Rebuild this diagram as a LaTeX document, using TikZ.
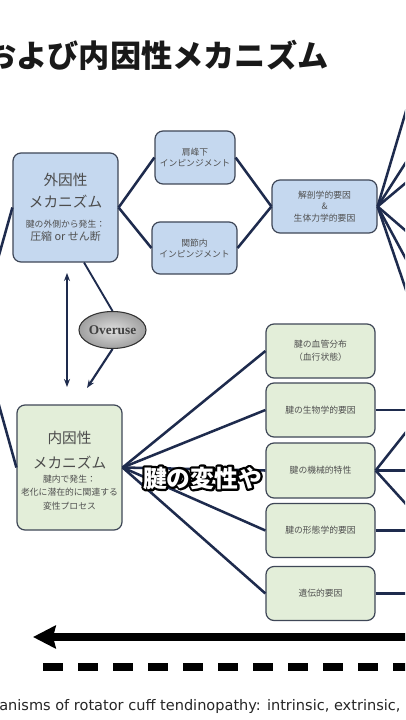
\documentclass[tikz,border=0pt]{standalone}
\usepackage{fontspec}
\setmainfont{Noto Sans CJK JP}
\newfontfamily\capfont{DejaVu Sans}
\newfontfamily\ovrfont{Liberation Serif}
\usetikzlibrary{shapes.geometric,arrows.meta,calc}
\definecolor{linec}{HTML}{1E2B4D}
\definecolor{boxb}{HTML}{3F4757}
\definecolor{bluef}{HTML}{C5D8EF}
\definecolor{greenf}{HTML}{E3EED9}
\definecolor{txtc}{HTML}{505050}
\newcommand\myBigLine[1]{{\fontsize{11}{11}\selectfont\color{black!70}#1}}
\newcommand\mySmlFont{\fontsize{6.6}{10}\selectfont}
\newcommand\myStroked[1]{\special{pdf:literal direct 1 Tr 3.4 w 1 j 0 0 0 RG}#1\special{pdf:literal direct 0 Tr}}
\begin{document}
\begin{tikzpicture}[x=0.75pt,y=-0.75pt,
  conn/.style={draw=linec, line width=1.9pt},
  bluebox/.style={draw=boxb, line width=0.9pt, rounded corners=6pt, fill=bluef, align=center, text=txtc, inner sep=0pt},
  greenbox/.style={bluebox, fill=greenf},
  smalltxt/.style={font=\fontsize{6.6}{8.2}\selectfont},
  gsize/.style={minimum width=109*0.75pt, minimum height=54*0.75pt},
  arr/.style={conn, line width=1.6pt, -{Stealth[length=6pt,width=4.5pt]}},
  subfont/.style={font=\bfseries\fontsize{17.8}{20}\selectfont, inner sep=0pt},
]
\useasboundingbox (0,0) rectangle (405,720);
\fill[white] (0,0) rectangle (405,720);
\clip (0,0) rectangle (405,720);

% title
\node[anchor=west, inner sep=0pt, font=\bfseries\fontsize{23.4}{24}\selectfont, text=black!90] (title) at (-15,55) {および内因性メカニズム};

% off-canvas anchor points
\coordinate (leftsrc) at (-22,330);

% nodes
\node[bluebox, font=\mySmlFont, minimum width=105*0.75pt, minimum height=109*0.75pt] (ext) at (65.5,207.5)
 {\myBigLine{外因性}\\[5.5pt]\myBigLine{メカニズム}\\[5pt]腱の外側から発生：\\[-0.5pt]{\fontsize{8.2}{10}\selectfont 圧縮 or せん断}};
\node[bluebox, smalltxt, minimum width=80*0.75pt, minimum height=53*0.75pt] (sub1) at (195,157.5) {肩峰下\\インピンジメント};
\node[bluebox, smalltxt, minimum width=85*0.75pt, minimum height=52*0.75pt] (sub2) at (194.5,248) {関節内\\インピンジメント};
\node[bluebox, smalltxt, minimum width=105*0.75pt, minimum height=53*0.75pt] (anat) at (324.5,206.5) {解剖学的要因\\[0.3pt]\&\\[0.3pt]生体力学的要因};

\node[ellipse, draw=black!80, line width=0.8pt, inner color=gray!25, outer color=gray!75, minimum width=67*0.75pt, minimum height=37*0.75pt, inner sep=0pt, font=\ovrfont\bfseries\fontsize{10}{12}\selectfont, text=black!75] (ovr) at (112.5,330) {Overuse};

\node[greenbox, font=\mySmlFont, minimum width=105*0.75pt, minimum height=125*0.75pt] (int) at (69.5,467.5)
 {\rule{0pt}{14pt}\myBigLine{内因性}\\[7.5pt]\myBigLine{メカニズム}\\[0.4pt]腱内で発生：\\老化に潜在的に関連する\\変性プロセス};

\node[greenbox, gsize, smalltxt, font=\fontsize{6.6}{9.75}\selectfont] (vasc) at (320.5,351) {腱の血管分布\\（血行状態）};
\node[greenbox, gsize, smalltxt] (bio) at (320.5,410) {腱の生物学的要因};
\node[greenbox, gsize, smalltxt, minimum height=55*0.75pt] (mech) at (320.5,470.5) {腱の機械的特性};
\node[greenbox, gsize, smalltxt] (morph) at (320.5,530.5) {腱の形態学的要因};
\node[greenbox, gsize, smalltxt] (gen) at (320.5,593.5) {遺伝的要因};

% connectors left
\draw[conn] (leftsrc) -- (ext.west);
\draw[conn] (leftsrc) -- (int.west);
\draw[conn] (ext.east) -- (sub1.west);
\draw[conn] (ext.east) -- (sub2.west);
\draw[conn] (sub1.east) -- (anat.west);
\draw[conn] (sub2.east) -- (anat.west);

% fan to the right of anat
\foreach \yy [count=\i] in {64,140.5,171,243,285,331} {
  \coordinate (fan\i) at (420,\yy);
  \draw[conn] (anat.east) -- (fan\i);
}

% overuse / double arrow
\coordinate (da1) at (67,273);
\coordinate (da2) at (67,387);
\draw[conn, line width=1.6pt, {Stealth[length=6pt,width=4.5pt]}-{Stealth[length=6pt,width=4.5pt]}] (da1) -- (da2);
\coordinate (ovin) at (84,262.5);
\draw[conn, line width=1.4pt] (ovin) -- (ovr.north);
\coordinate (ovout) at (87,388);
\draw[arr] (ovr.south) -- (ovout);

% intrinsic fan
\foreach \n in {vasc,bio,mech,morph,gen} {
  \draw[conn] (int.east) -- (\n.west);
}

% right side connectors of green boxes
\coordinate (bioR) at (420,410);
\coordinate (mechR) at (420,470.5);
\coordinate (mechU) at (420,414.5);
\coordinate (mechD) at (420,519.5);
\coordinate (morphR) at (420,530.5);
\coordinate (genR) at (420,593.5);
\draw[conn] (bio.east) -- (bioR);
\draw[conn] (mech.east) -- (mechR);
\draw[conn] (mech.east) -- (mechU);
\draw[conn] (mech.east) -- (mechD);
\draw[conn] (morph.east) -- (morphR);
\draw[conn] (gen.east) -- (genR);

% subtitle: black outline, then white fill on top
\node[subfont, text=black] (subtO) at (202.5,478) {\myStroked{腱の変性や}};
\node[subfont, text=white] (subt) at (202.5,478) {腱の変性や};

% bottom arrows
\coordinate (arrR) at (420,637);
\coordinate (arrL) at (33,637);
\draw[line width=6pt, -{Stealth[length=17pt,width=17pt,inset=2pt]}] (arrR) -- (arrL);
\coordinate (dashL) at (43,667);
\coordinate (dashR) at (420,667);
\draw[line width=5.5pt, dash pattern=on 15pt off 11.25pt] (dashL) -- (dashR);

% caption
\node[anchor=base west, inner sep=0pt, font=\capfont\fontsize{10.9}{12}\selectfont, text=black!85] (cap) at (-1,710) {anisms of rotator cuff tendinopathy: intrinsic, extrinsic,};
\end{tikzpicture}
\end{document}
